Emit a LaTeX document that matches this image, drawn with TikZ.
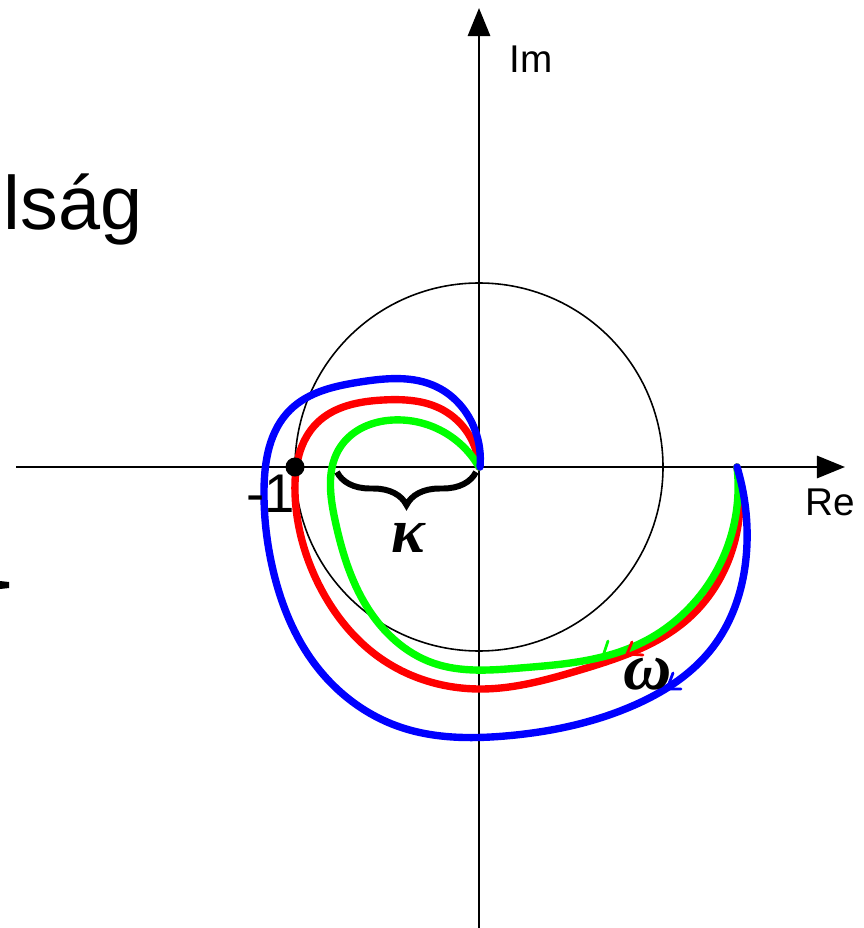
\documentclass[tikz,border=0pt]{standalone}
\usepackage{fontspec}
\setmainfont{Liberation Sans}
\newfontfamily\grfont{Liberation Serif}
\usetikzlibrary{arrows.meta,decorations.pathreplacing,hobby}
\definecolor{nyqblue}{RGB}{0,0,255}
\definecolor{nyqred}{RGB}{255,0,0}
\definecolor{nyqgreen}{RGB}{0,255,0}
\tikzset{
  axis/.style={line width=0.8pt,-{Triangle[length=8pt,width=6.3pt]}},
  nyq/.style={line width=2.1pt,line cap=round,line join=round,use Hobby shortcut},
  barb/.style={line width=0.8pt,line cap=round},
  lbl/.style={inner sep=0pt},
}
\begin{document}
\begin{tikzpicture}[x=0.01cm,y=-0.01cm]
    \useasboundingbox (0,0) rectangle (863,928);
    % unit circle and axes
    \draw[line width=0.45pt] (479,467) circle (184);
    \draw[axis] (16,467) -- (845,467);
    \draw[axis] (479,928) -- (479,8);
    \node[lbl] (re) at (830,502) {\fontsize{11}{13}\selectfont Re};
    \node[lbl] (im) at (531,59) {\fontsize{11}{13}\selectfont Im};
    \node[lbl,anchor=base west] (lsag) at (3,230) {\fontsize{21.5}{26}\selectfont lság};
    \fill (0,581) -- (9,582) -- (9,588) -- (0,589) -- cycle;
    % Nyquist curves
    \draw[nyq,nyqred] (737,467) .. (735,540) .. (690,617) .. (580,670) .. (480,689) .. (383,660) .. (320,587) .. (295,493) .. (317,423) .. (383,400) .. (443,410) .. (479,467);
    \draw[nyq,nyqgreen] (737,467) .. (713,577) .. (637,645) .. (520,668) .. (433,663) .. (367,607) .. (335,520) .. (341,446) .. (393,420) .. (479,467);
    \draw[nyq,nyqblue] (737,467) .. (747,543) .. (713,647) .. (630,707) .. (505,736) .. (400,727) .. (317,667) .. (273,570) .. (264,490) .. (290,410) .. (360,382) .. (437,387) .. (475,430) .. (480,467);
    \draw[barb,nyqred] (632,642) -- (627,654) -- (643,655);
    \draw[barb,nyqgreen] (608,641) -- (603,656) -- (618,654);
    \draw[barb,nyqblue] (673,673) -- (667,689) -- (681,689);
    % critical point and margin
    \node[lbl] (mone) at (271,494) {\fontsize{15.5}{19}\selectfont -1};
    \node[circle,fill,inner sep=0pt,minimum size=0.19cm] (crit) at (295,467) {};
    \draw[line width=1.7pt,decorate,decoration={brace,amplitude=0.33cm}] (476,472) -- (337,472);
    \node[lbl] (kappa) at (408,538) {\fontsize{18}{21}\selectfont\grfont\bfseries\itshape κ};
    \node[lbl] (omega) at (648,674) {\fontsize{19}{22}\selectfont\grfont\bfseries\itshape ω};
\end{tikzpicture}
\end{document}
